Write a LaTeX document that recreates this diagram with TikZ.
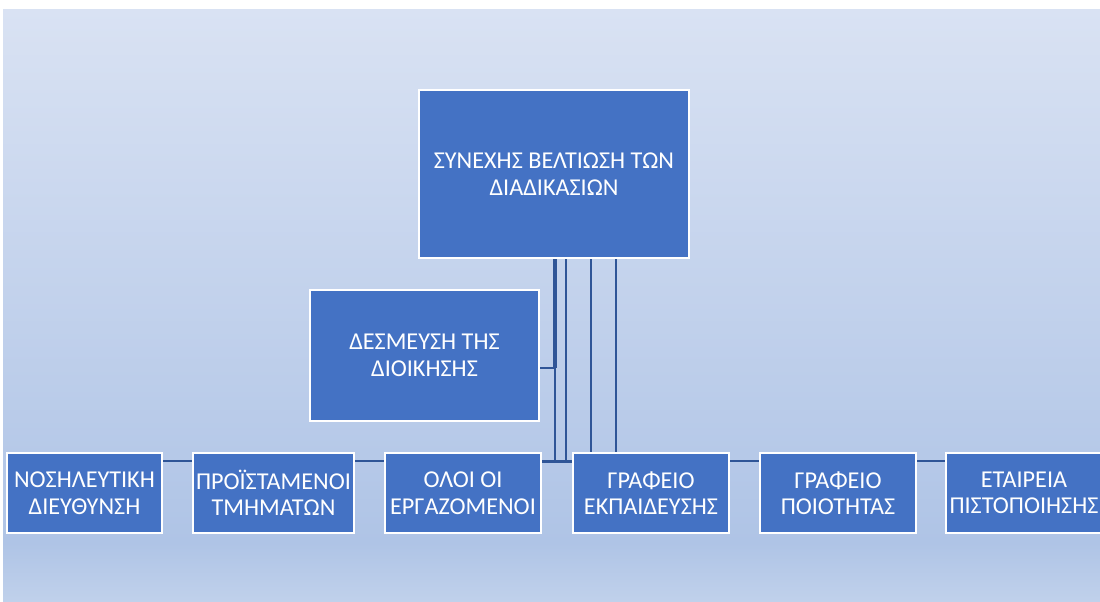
\documentclass[tikz,border=0pt]{standalone}
\usepackage{fontspec}
\setmainfont{Carlito}
\usetikzlibrary{calc}
\definecolor{bgT}{RGB}{217,226,243}
\definecolor{bgM}{RGB}{175,196,230}
\definecolor{bgB}{RGB}{192,209,235}
\definecolor{boxblue}{RGB}{68,114,196}
\definecolor{linec}{RGB}{47,85,151}
\pgfdeclareverticalshading{bgshade}{100bp}{color(0bp)=(bgB); color(25bp)=(bgB); color(30bp)=(bgM); color(75bp)=(bgT); color(100bp)=(bgT)}
\pgfdeclarelayer{background}
\pgfdeclarelayer{lines}
\pgfsetlayers{background,lines,main}
\begin{document}
\begin{tikzpicture}[x=1pt,y=-1pt,
  box/.style={draw=white,line width=2pt,fill=boxblue,text=white,
    font=\fontsize{24.2}{26.5}\selectfont,align=center,inner sep=0pt,
    minimum height=80pt},
  conn/.style={draw=linec,line width=2.5pt}]
\useasboundingbox (0,0) rectangle (1100,602);
\clip (0,0) rectangle (1100,602);
\begin{pgfonlayer}{background}
\fill[shading=bgshade] (3,10) rectangle (1100,602);
\end{pgfonlayer}

\node[box,minimum width=270pt,minimum height=168pt] (top) at (554,174) {ΣΥΝΕΧΗΣ ΒΕΛΤΙΩΣΗ ΤΩΝ\\ΔΙΑΔΙΚΑΣΙΩΝ};
\node[box,minimum width=229pt,minimum height=131pt] (des) at (424.5,355.5) {ΔΕΣΜΕΥΣΗ ΤΗΣ\\ΔΙΟΙΚΗΣΗΣ};

\node[box,minimum width=155pt] (b1) at (84.5,493) {ΝΟΣΗΛΕΥΤΙΚΗ\\ΔΙΕΥΘΥΝΣΗ};
\node[box,minimum width=161pt] (b2) at (273.5,493) {ΠΡΟΪΣΤΑΜΕΝΟΙ\\ΤΜΗΜΑΤΩΝ};
\node[box,minimum width=156pt] (b3) at (463,493) {ΟΛΟΙ ΟΙ\\ΕΡΓΑΖΟΜΕΝΟΙ};
\node[box,minimum width=156pt] (b4) at (651,493) {ΓΡΑΦΕΙΟ\\ΕΚΠΑΙΔΕΥΣΗΣ};
\node[box,minimum width=156pt] (b5) at (838,493) {ΓΡΑΦΕΙΟ\\ΠΟΙΟΤΗΤΑΣ};
\node[box,minimum width=156pt] (b6) at (1024,493) {ΕΤΑΙΡΕΙΑ\\ΠΙΣΤΟΠΟΙΗΣΗΣ};

\coordinate (hl) at (0,461);
\coordinate (dj) at (0,368);
\begin{pgfonlayer}{lines}
\draw[conn] (b1.east |- hl) -- (b2.west |- hl);
\draw[conn] (b2.east |- hl) -- (b3.west |- hl);
\draw[conn,line width=3pt] (b3.east |- hl) -- (b4.west |- hl);
\draw[conn] (b4.east |- hl) -- (b5.west |- hl);
\draw[conn] (b5.east |- hl) -- (b6.west |- hl);
\draw[conn,line width=4pt] ([xshift=1pt]top.south) -- ([xshift=1pt]top.south |- dj);
\draw[conn] ([xshift=1pt]top.south |- dj) -- ([xshift=1pt]top.south |- hl);
\draw[conn] (des.east |- dj) -- ([xshift=1pt]top.south |- dj);
\draw[conn] ([xshift=12pt]top.south) -- ([xshift=12pt]top.south |- hl);
\draw[conn] ([xshift=37pt]top.south) -- ([xshift=37pt]top.south |- b4.north);
\draw[conn] ([xshift=62pt]top.south) -- ([xshift=62pt]top.south |- b4.north);
\end{pgfonlayer}
\end{tikzpicture}
\end{document}
